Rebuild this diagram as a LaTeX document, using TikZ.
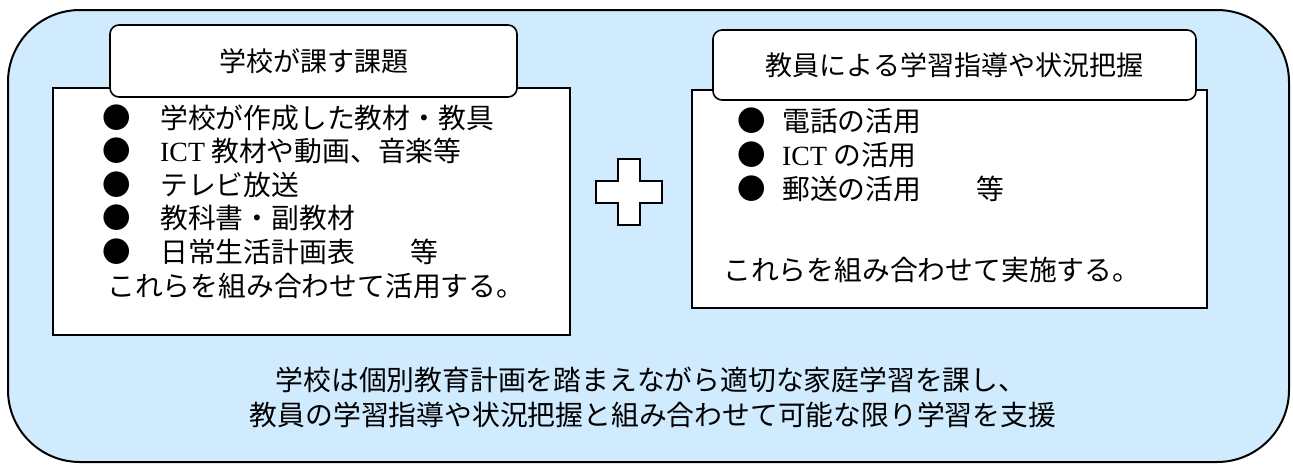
\documentclass[tikz,border=0pt]{standalone}
\usepackage{fontspec}
\setmainfont{Noto Sans CJK JP}
\newfontfamily\latinserif{Liberation Serif}
\definecolor{bgblue}{RGB}{208,234,254}
\begin{document}
\begin{tikzpicture}[x=1pt,y=-1pt,
  frame/.style={draw=black,line width=1.6pt},
  txt/.style={anchor=base west,inner sep=0pt,font=\fontsize{27.8}{32}\selectfont},
  bul/.style={anchor=base,inner sep=0pt,font=\fontsize{28.5}{32}\selectfont},
  ctr/.style={anchor=base,inner sep=0pt,font=\fontsize{27.8}{32}\selectfont},
  head/.style={anchor=base,inner sep=0pt,font=\fontsize{27}{32}\selectfont}]
\useasboundingbox (0,0) rectangle (1293,466);
% outer frame
\draw[draw=black,line width=2pt,fill=bgblue,rounded corners=72pt] (8,10) rectangle (1289,462);
% left panel
\draw[frame,fill=white] (53,88) rectangle (570,335);
\draw[frame,fill=white,rounded corners=9pt] (110,25) rectangle (517,97);
\node[head] (lt) at (313.5,71) {学校が課す課題};
% right panel
\draw[frame,fill=white] (692,90) rectangle (1207,308);
\draw[frame,fill=white,rounded corners=9pt] (713,30) rectangle (1196,100);
\node[head] (rt) at (954.5,75) {教員による学習指導や状況把握};
% plus sign
\draw[frame,fill=white] (618,159) -- (640,159) -- (640,181) -- (662,181) -- (662,203) -- (640,203) -- (640,225) -- (618,225) -- (618,203) -- (596,203) -- (596,181) -- (618,181) -- cycle;
% left items
\node[bul] (lb1) at (117,128) {●};
\node[txt] (li1) at (160,128) {学校が作成した教材・教具};
\node[bul] (lb2) at (117,161) {●};
\node[txt] (li2) at (160,161) {{\latinserif ICT} 教材や動画、音楽等};
\node[bul] (lb3) at (117,195) {●};
\node[txt] (li3) at (160,195) {テレビ放送};
\node[bul] (lb4) at (117,228) {●};
\node[txt] (li4) at (160,228) {教科書・副教材};
\node[bul] (lb5) at (117,262) {●};
\node[txt] (li5) at (160,262) {日常生活計画表　　等};
\node[txt] (lsum) at (107,296) {これらを組み合わせて活用する。};
% right items
\node[bul] (rb1) at (752,131) {●};
\node[txt] (ri1) at (782,131) {電話の活用};
\node[bul] (rb2) at (752,165) {●};
\node[txt] (ri2) at (782,165) {{\latinserif ICT} の活用};
\node[bul] (rb3) at (752,199) {●};
\node[txt] (ri3) at (782,199) {郵送の活用　　等};
\node[txt] (rsum) at (723,280) {これらを組み合わせて実施する。};
% bottom text
\node[ctr] (b1) at (651,390) {学校は個別教育計画を踏まえながら適切な家庭学習を課し、};
\node[ctr] (b2) at (653,425) {教員の学習指導や状況把握と組み合わせて可能な限り学習を支援};
\end{tikzpicture}
\end{document}
